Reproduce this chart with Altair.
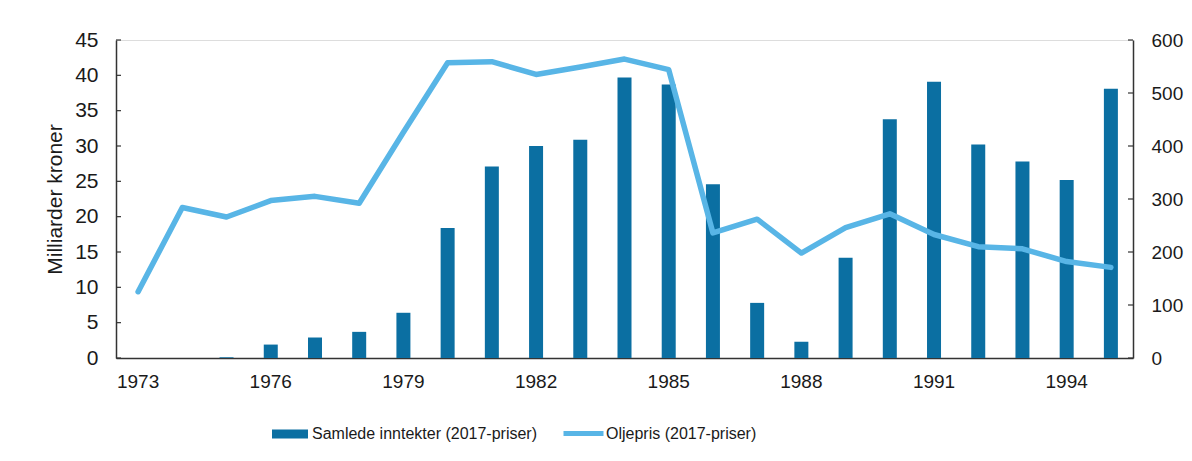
import altair as alt
import pandas as pd

# ---- data ----
years = [str(y) for y in range(1973, 1996)]
revenue = [0, 0, 0.1, 1.9, 2.9, 3.7, 6.4, 18.4, 27.1, 30.0, 30.9, 39.7, 38.7,
           24.6, 7.8, 2.3, 14.2, 33.8, 39.1, 30.2, 27.8, 25.2, 38.1]
oil_price = [125, 284, 266, 297, 305, 292, 426, 557, 559, 535, 549, 564, 544,
             236, 262, 198, 246, 272, 233, 210, 206, 182, 171]
x_labels = ["1973", "1976", "1979", "1982", "1985", "1988", "1991", "1994"]
left_ticks = [0, 5, 10, 15, 20, 25, 30, 35, 40, 45]
right_ticks = [0, 100, 200, 300, 400, 500, 600]
series_bar = "Samlede inntekter (2017-priser)"
series_line = "Oljepris (2017-priser)"
y_title = "Milliarder kroner"

BAR_COLOR = "#0b6fa2"
LINE_COLOR = "#58b5e6"
AXIS_COLOR = "#333333"
TEXT_COLOR = "#1a1a1a"
FONT = "Liberation Sans"
W, H = 1017, 318

df = pd.DataFrame({"year": years, "revenue": revenue, "oil": oil_price,
                   "s1": series_bar, "s2": series_line})

x_enc = alt.X("year:O", title=None,
              scale=alt.Scale(paddingInner=0, paddingOuter=0),
              axis=alt.Axis(values=x_labels, ticks=False, labelAngle=0,
                            labelFontSize=19, labelPadding=14, labelColor=TEXT_COLOR,
                            domainColor=AXIS_COLOR, domainWidth=1.5, grid=False))

bars = alt.Chart(df).mark_bar(size=14).encode(
    x=x_enc,
    y=alt.Y("revenue:Q", title=y_title,
            scale=alt.Scale(domain=[0, 45], nice=False),
            axis=alt.Axis(values=left_ticks, orient="left", ticks=False, grid=False,
                          labelFontSize=21, labelPadding=18, labelColor=TEXT_COLOR,
                          titleFontSize=21, titleFontWeight="normal", titleColor=TEXT_COLOR,
                          titlePadding=9, domainColor=AXIS_COLOR, domainWidth=1.5)),
    fill=alt.Fill("s1:N", scale=alt.Scale(domain=[series_bar], range=[BAR_COLOR]),
                  legend=alt.Legend(title=None, orient="none", legendX=156, legendY=376,
                                    symbolType="M-1,-0.25H1V0.25H-1Z", symbolSize=1296,
                                    symbolStrokeWidth=0, labelFontSize=16, labelOffset=4,
                                    labelLimit=500, labelColor=TEXT_COLOR, padding=0)),
)

line = alt.Chart(df).mark_line(strokeWidth=5.5, strokeJoin="round", strokeCap="round").encode(
    x=alt.X("year:O", bandPosition=0.5),
    y=alt.Y("oil:Q", title=None,
            scale=alt.Scale(domain=[0, 600], nice=False),
            axis=alt.Axis(values=right_ticks, orient="right", ticks=False, grid=False,
                          labelFontSize=19, labelPadding=18, labelColor=TEXT_COLOR,
                          domainColor=AXIS_COLOR, domainWidth=1.5)),
    stroke=alt.Stroke("s2:N", scale=alt.Scale(domain=[series_line], range=[LINE_COLOR]),
                      legend=alt.Legend(title=None, orient="none", legendX=445, legendY=371,
                                        symbolType="stroke", symbolSize=1600,
                                        symbolStrokeWidth=5, labelFontSize=16, labelOffset=0,
                                        labelLimit=500, labelColor=TEXT_COLOR, padding=0)),
)

lt = pd.DataFrame({"v": left_ticks})
rt = pd.DataFrame({"v": right_ticks})
left_tick_marks = alt.Chart(lt).mark_rule(color=AXIS_COLOR, strokeWidth=1.2).encode(
    y=alt.Y("v:Q", scale=alt.Scale(domain=[0, 45], nice=False), axis=None),
    x=alt.value(0), x2=alt.value(5))
right_tick_marks = alt.Chart(rt).mark_rule(color=AXIS_COLOR, strokeWidth=1.2).encode(
    y=alt.Y("v:Q", scale=alt.Scale(domain=[0, 600], nice=False), axis=None),
    x=alt.value(W - 5), x2=alt.value(W))

chart = alt.layer(bars, line, left_tick_marks, right_tick_marks).resolve_scale(
    y="independent", fill="independent", stroke="independent"
).properties(
    width=W, height=H,
    autosize=alt.AutoSizeParams(type="none"),
    padding={"left": 108, "top": 32, "right": 51, "bottom": 95},
    background="white",
).configure_view(strokeWidth=0).configure(font=FONT)

chart.save("out.html", embed_options={"renderer": "svg", "actions": False})
